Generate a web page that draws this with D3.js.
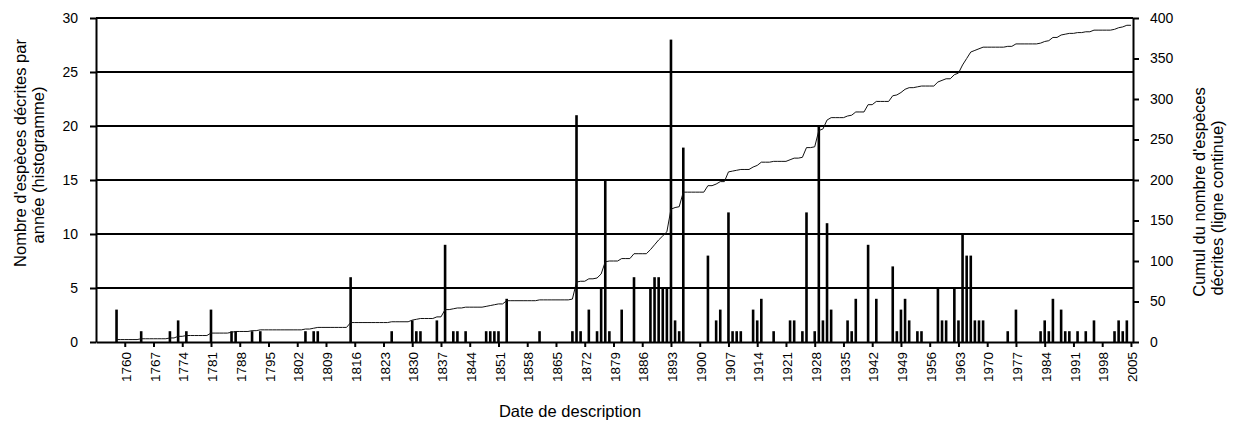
<!DOCTYPE html>
<html>
<head>
<meta charset="utf-8">
<script src="https://cdn.jsdelivr.net/npm/d3@7"></script>
<style>
  body { margin: 0; background: #fff; }
  svg { font-family: "Liberation Sans", Arial, sans-serif; }
</style>
</head>
<body>
<div id="chart"></div>
<script>
// years with at least one species described, and how many
const descYears = [
  1758, 1764, 1771, 1773, 1775, 1781, 1786, 1787, 1791, 1793,
  1804, 1806, 1807, 1815, 1825, 1830, 1831, 1832, 1836, 1838,
  1840, 1841, 1843, 1848, 1849, 1850, 1851, 1853, 1861, 1869,
  1870, 1871, 1873, 1875, 1876, 1877, 1878, 1881, 1884, 1888,
  1889, 1890, 1891, 1892, 1893, 1894, 1895, 1896, 1902, 1904,
  1905, 1907, 1908, 1909, 1910, 1913, 1914, 1915, 1918, 1922,
  1923, 1925, 1926, 1928, 1929, 1930, 1931, 1932, 1936, 1937,
  1938, 1941, 1943, 1947, 1948, 1949, 1950, 1951, 1953, 1954,
  1958, 1959, 1960, 1962, 1963, 1964, 1965, 1966, 1967, 1968,
  1969, 1975, 1977, 1983, 1984, 1985, 1986, 1988, 1989, 1990,
  1992, 1994, 1996, 2001, 2002, 2003, 2004
];
const descCounts = [
  3, 1, 1, 2, 1, 3, 1, 1, 1, 1,
  1, 1, 1, 6, 1, 2, 1, 1, 2, 9,
  1, 1, 1, 1, 1, 1, 1, 4, 1, 1,
  21, 1, 3, 1, 5, 15, 1, 3, 6, 5,
  6, 6, 5, 5, 28, 2, 1, 18, 8, 2,
  3, 12, 1, 1, 1, 3, 2, 4, 1, 2,
  2, 1, 12, 1, 20, 2, 11, 3, 2, 1,
  4, 9, 4, 7, 1, 3, 4, 2, 1, 1,
  5, 2, 2, 5, 2, 10, 8, 8, 2, 2,
  2, 1, 3, 1, 2, 1, 4, 3, 1, 1,
  1, 1, 2, 1, 2, 1, 2
];

const firstYear = 1758, lastYear = 2005;
const yearTicks = d3.range(1760, 2006, 7);
const leftTicks = [0, 5, 10, 15, 20, 25, 30];
const rightTicks = [0, 50, 100, 150, 200, 250, 300, 350, 400];

const width = 1237, height = 429;
const margin = {top: 18, right: 104, bottom: 87, left: 96};

const svg = d3.select("#chart").append("svg")
  .attr("width", width)
  .attr("height", height)
  .attr("viewBox", [0, 0, width, height]);

const x = d3.scaleLinear()
  .domain([1753, 2005.5])
  .range([margin.left, width - margin.right]);

const y = d3.scaleLinear()
  .domain([0, 30])
  .range([height - margin.bottom, margin.top]);

const y2 = d3.scaleLinear()
  .domain([0, 400])
  .range([height - margin.bottom, margin.top]);

// running total, one point per year (zero years included)
const byYear = new Map(descYears.map((yr, i) => [yr, descCounts[i]]));
const allYears = d3.range(firstYear, lastYear + 1);
const total = Array.from(d3.cumsum(allYears, yr => byYear.get(yr) || 0));

// horizontal grid
svg.append("g")
  .selectAll("line")
  .data(leftTicks.slice(1))
  .join("line")
    .attr("x1", margin.left)
    .attr("x2", width - margin.right)
    .attr("y1", d => y(d))
    .attr("y2", d => y(d))
    .attr("stroke", "#000")
    .attr("stroke-width", 2);

// bars
svg.append("g")
  .selectAll("rect")
  .data(descYears)
  .join("rect")
    .attr("x", d => x(d) - 1.3)
    .attr("width", 2.6)
    .attr("y", (d, i) => y(descCounts[i]))
    .attr("height", (d, i) => y(0) - y(descCounts[i]))
    .attr("fill", "#000");

// cumulative line
const line = d3.line()
  .x((d, i) => x(allYears[i]))
  .y(d => y2(d));

svg.append("path")
  .datum(total)
  .attr("fill", "none")
  .attr("stroke", "#111")
  .attr("stroke-width", 1)
  .attr("d", line);

const styleAxis = g => g
  .call(g => g.select(".domain").attr("stroke-width", 2))
  .call(g => g.selectAll(".tick line").attr("stroke-width", 2))
  .call(g => g.selectAll("text").attr("fill", "#000"));

const narrow = g => g.selectAll("text")
  .attr("font-family", "'Liberation Sans Narrow', 'Arial Narrow', sans-serif")
  .attr("font-size", 14);

svg.append("g")
  .attr("transform", `translate(${margin.left},0)`)
  .call(d3.axisLeft(y).tickValues(leftTicks).tickSize(6).tickSizeOuter(0).tickPadding(12))
  .call(styleAxis)
  .call(narrow);

svg.append("g")
  .attr("transform", `translate(${width - margin.right},0)`)
  .call(d3.axisRight(y2).tickValues(rightTicks).tickSize(6).tickSizeOuter(0).tickPadding(11))
  .call(styleAxis)
  .call(narrow);

svg.append("g")
  .attr("transform", `translate(0,${height - margin.bottom})`)
  .call(d3.axisBottom(x).tickValues(yearTicks).tickFormat(d3.format("d")).tickSize(5).tickSizeOuter(0))
  .call(styleAxis)
  .call(g => g.selectAll(".tick text")
    .attr("font-size", 13.5)
    .attr("transform", "rotate(-90)")
    .attr("text-anchor", "end")
    .attr("dy", "0.35em")
    .attr("x", -10)
    .attr("y", 1));

// axis titles, one line at a time (centre x of baseline, centre y)
const title = (s, cx, cy, rot) => svg.append("text")
  .attr("transform", `translate(${cx},${cy}) rotate(${rot})`)
  .attr("text-anchor", "middle")
  .attr("font-size", 16.5)
  .attr("fill", "#000")
  .text(s);

title("Nombre d'espèces décrites par", 26, 153, -90);
title("année (histogramme)", 44, 165, -90);
title("Cumul du nombre d'espèces", 1205, 192, -90);
title("décrites (ligne continue)", 1223, 208, -90);
title("Date de description", 570, 417, 0);
</script>
</body>
</html>
